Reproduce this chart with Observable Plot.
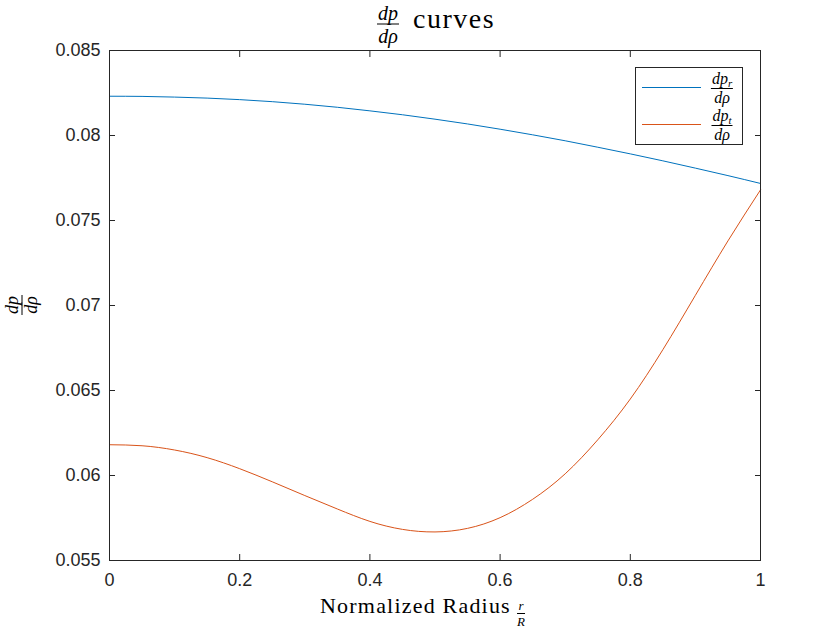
<!DOCTYPE html>
<html>
<head>
<meta charset="utf-8">
<script src="https://cdn.jsdelivr.net/npm/d3@7"></script>
<script src="https://cdn.jsdelivr.net/npm/@observablehq/plot@0.6"></script>
<style>
  html, body { margin: 0; padding: 0; background: #fff; }
  #wrap { position: relative; width: 840px; height: 630px; overflow: hidden; }
  .ov { position: absolute; white-space: nowrap; color: #000; font-family: "Liberation Serif", "Times New Roman", serif; }
  .frac { display: inline-flex; flex-direction: column; align-items: center; font-family: "Liberation Serif", "Times New Roman", serif; font-style: italic; line-height: 1; }
  .frac .num { padding: 0 1px 1px 1px; border-bottom: 1px solid #000; }
  .frac .den { padding: 1px 1px 0 1px; }
  .frac sub { font-size: 68%; vertical-align: -0.3em; line-height: 0; }
  #legend { position: absolute; left: 635px; top: 67px; width: 108px; height: 78px; border: 1px solid #262626; background: #fff; box-sizing: border-box; }
</style>
</head>
<body>
<div id="wrap"></div>
<script>
// ---- data ----
const radius = [0, 0.05, 0.1, 0.15, 0.2, 0.25, 0.3, 0.35, 0.4, 0.45, 0.5,
                0.55, 0.6, 0.65, 0.7, 0.75, 0.8, 0.85, 0.9, 0.95, 1];
const dpr = [0.08231, 0.08230, 0.08226, 0.08220, 0.08211, 0.08199, 0.08184, 0.08166, 0.08145, 0.08122, 0.08096,
             0.08068, 0.08037, 0.08004, 0.07969, 0.07931, 0.07892, 0.07851, 0.07808, 0.07764, 0.07718];
const dpt = [0.06181, 0.06175, 0.06150, 0.06105, 0.06040, 0.05963, 0.05882, 0.05803, 0.05730, 0.05683, 0.05668,
             0.05689, 0.05752, 0.05860, 0.06010, 0.06210, 0.06450, 0.06740, 0.07060, 0.07380, 0.07680];
const seriesNames = ["dp_r/dρ", "dp_t/dρ"];
const seriesColors = ["#0072BD", "#D95319"];
const xTicks = [0, 0.2, 0.4, 0.6, 0.8, 1];
const yTicks = [0.055, 0.06, 0.065, 0.07, 0.075, 0.08, 0.085];

const rows = [
  ...radius.map((r, i) => ({r, v: dpr[i], s: seriesNames[0]})),
  ...radius.map((r, i) => ({r, v: dpt[i], s: seriesNames[1]}))
];
const fmt = d => String(+(+d).toFixed(3));

const chart = Plot.plot({
  width: 840,
  height: 630,
  marginLeft: 109,
  marginRight: 80,
  marginTop: 50,
  marginBottom: 70,
  style: {fontFamily: "'Liberation Sans', Arial, Helvetica, sans-serif", fontSize: "18px", color: "#262626", background: "#fff"},
  x: {domain: [0, 1]},
  y: {domain: [0.055, 0.085]},
  color: {domain: seriesNames, range: seriesColors},
  marks: [
    Plot.line(rows, {x: "r", y: "v", z: "s", stroke: "s", strokeWidth: 1, curve: "natural"}),
    Plot.frame({stroke: "#262626", strokeWidth: 1}),
    Plot.axisX({anchor: "bottom", ticks: xTicks, tickSize: -6, tickPadding: 19, tickFormat: fmt, label: null}),
    Plot.axisX({anchor: "top", ticks: xTicks, tickSize: -6, tickFormat: () => "", label: null}),
    Plot.axisY({anchor: "left", ticks: yTicks, tickSize: -6, tickPadding: 15, tickFormat: fmt, label: null}),
    Plot.axisY({anchor: "right", ticks: yTicks, tickSize: -6, tickFormat: () => "", label: null})
  ]
});
const wrap = document.getElementById("wrap");
wrap.appendChild(chart);

// y label (rotated fraction) drawn inside the SVG
const yl = d3.select(chart).append("g")
  .attr("transform", "translate(22,305) rotate(-90)")
  .attr("font-family", "'Liberation Serif', 'Times New Roman', serif")
  .attr("font-style", "italic")
  .attr("font-size", 18)
  .attr("text-anchor", "middle")
  .attr("fill", "#000");
yl.append("text").attr("y", -4).text("dp");
yl.append("line").attr("x1", -10).attr("x2", 10).attr("stroke", "#000").attr("stroke-width", 1);
yl.append("text").attr("y", 15).text("dρ");

function frac(num, den, size) {
  return `<span class="frac" style="font-size:${size}px"><span class="num">${num}</span><span class="den">${den}</span></span>`;
}
function place(html, css) {
  const d = document.createElement("div");
  d.className = "ov";
  d.style.cssText = css;
  d.innerHTML = html;
  wrap.appendChild(d);
  return d;
}

// title
place(frac("dp", "dρ", 20), "left:388px;top:24px;transform:translate(-50%,-50%);");
place("curves", "left:413px;top:5px;font-size:28px;line-height:1;letter-spacing:1.5px;");

// x label
place("Normalized Radius", "left:320px;top:595px;font-size:22px;line-height:1;letter-spacing:1.2px;");
place(frac("r", "R", 13), "left:521px;top:612px;transform:translate(-50%,-50%);");

// legend
const leg = document.createElement("div");
leg.id = "legend";
wrap.appendChild(leg);
const legendItems = [
  {num: "dp<sub>r</sub>", den: "dρ", color: seriesColors[0], y: 87},
  {num: "dp<sub>t</sub>", den: "dρ", color: seriesColors[1], y: 124}
];
legendItems.forEach(it => {
  place("", `left:642px;top:${it.y - 0.5}px;width:59px;height:0;border-top:1px solid ${it.color};`);
  place(frac(it.num, it.den, 16), `left:722px;top:${it.y + 1}px;transform:translate(-50%,-50%);`);
});
</script>
</body>
</html>
